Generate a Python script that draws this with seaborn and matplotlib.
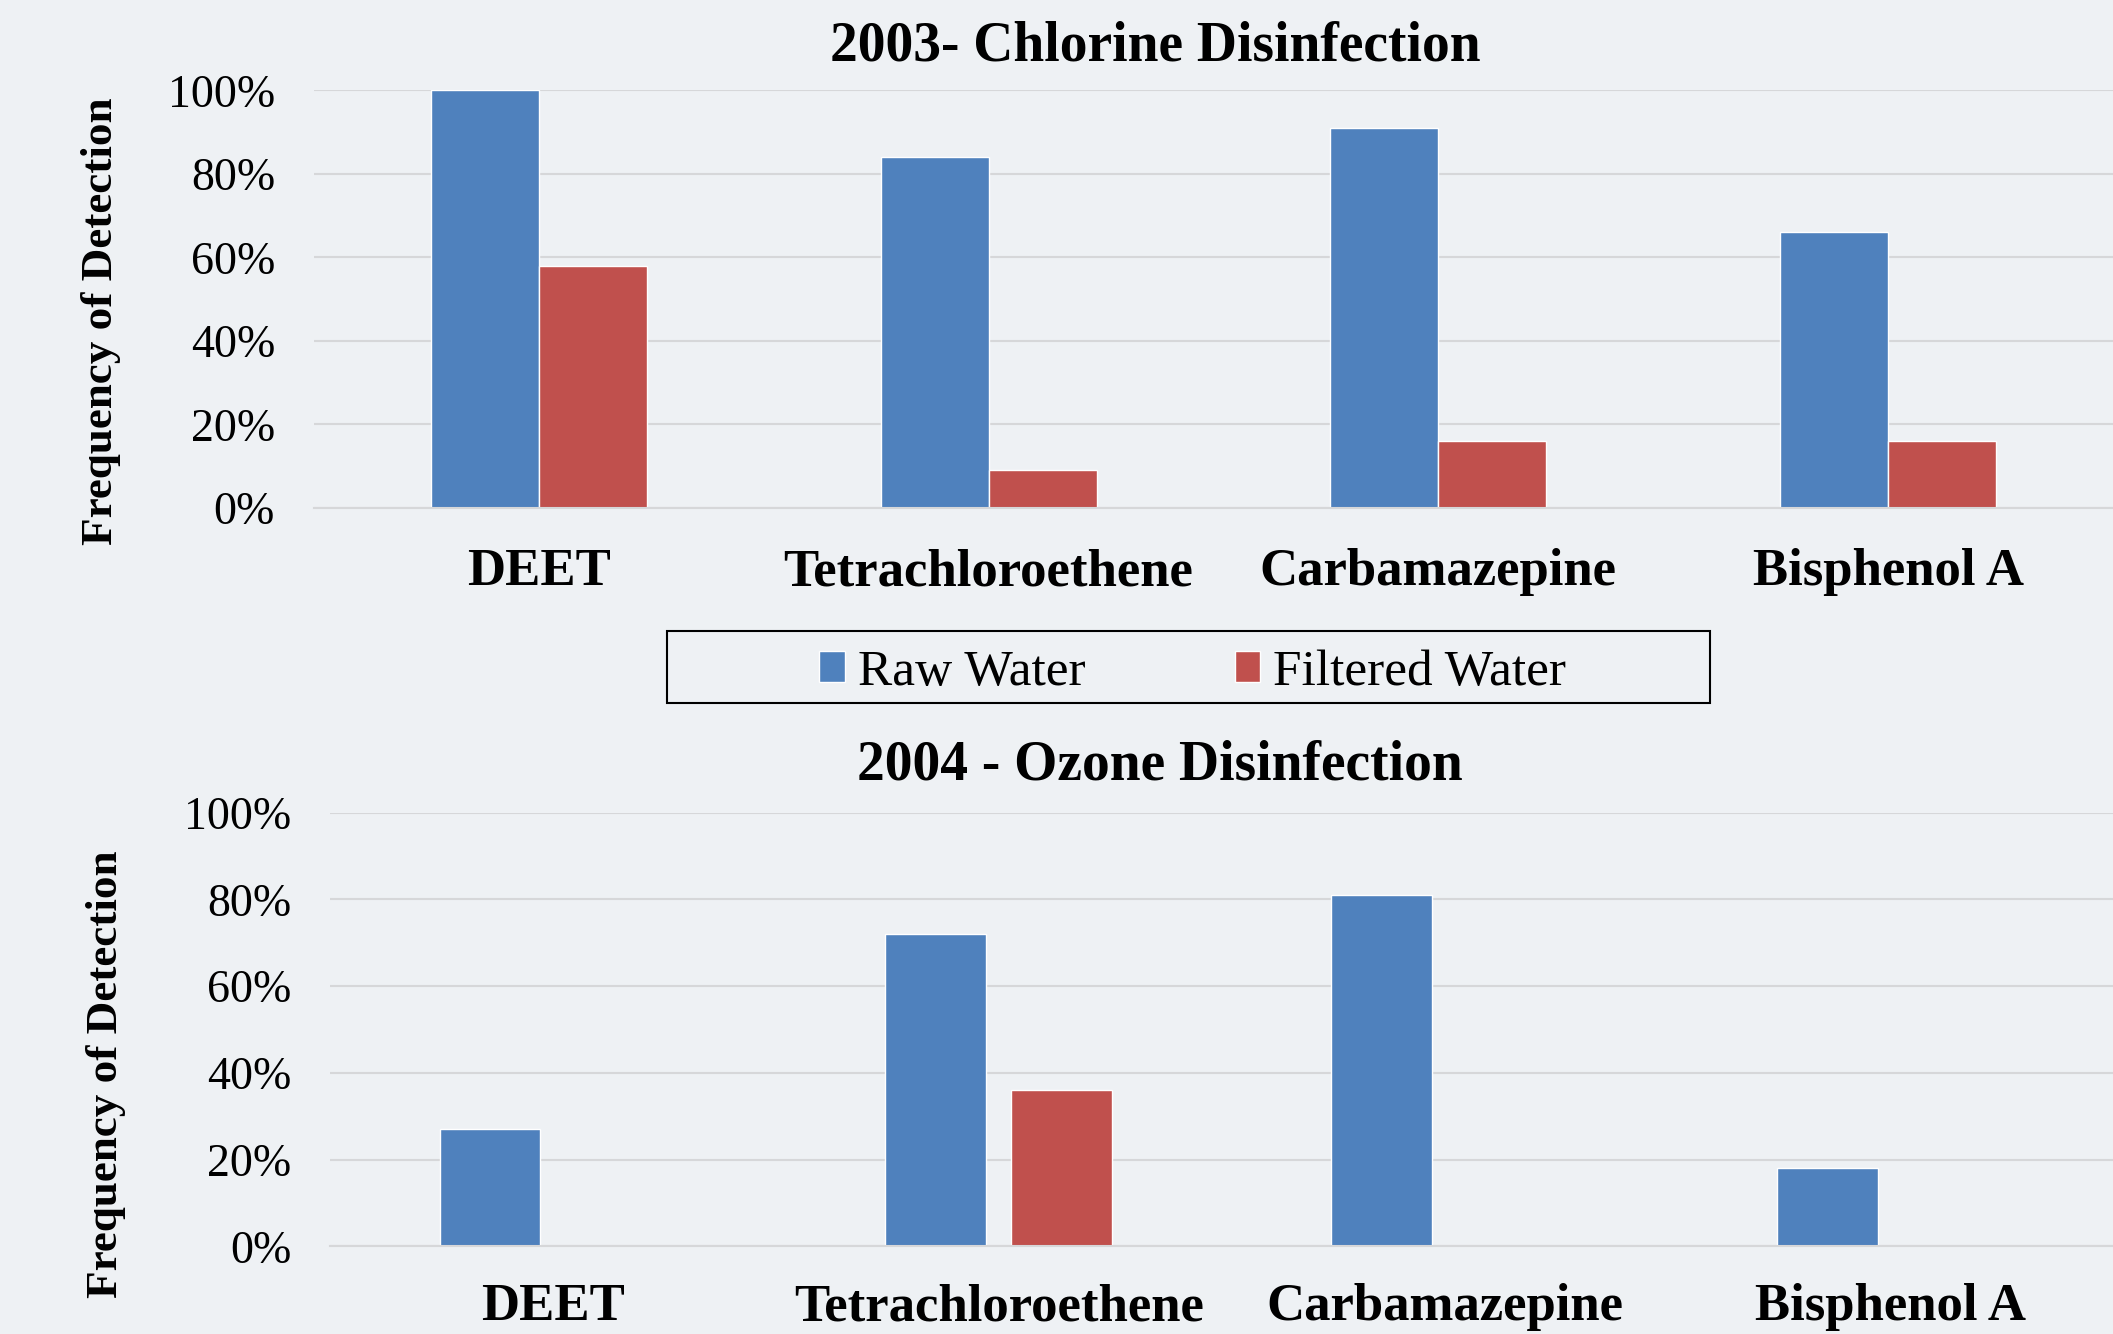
import pandas as pd
import seaborn as sns
import matplotlib.pyplot as plt
from matplotlib.patches import Rectangle
from matplotlib.ticker import PercentFormatter

compounds = ["DEET", "Tetrachloroethene", "Carbamazepine", "Bisphenol A"]
series = ["Raw Water", "Filtered Water"]
raw_2003 = [100, 84, 91, 66]
filtered_2003 = [58, 9, 16, 16]
raw_2004 = [27, 72, 81, 18]
filtered_2004 = [0, 36, 0, 0]
yticks = [0, 20, 40, 60, 80, 100]


def long_table(raw, filt):
    return pd.DataFrame({
        "compound": compounds * 2,
        "water": [series[0]] * len(raw) + [series[1]] * len(filt),
        "freq": raw + filt,
    })


bg = "#EEF1F4"
grid_c = "#D6D7D9"
colors = ["#4F81BD", "#C0504D"]

sns.set_theme(style="white")
plt.rcParams["font.family"] = ["Liberation Serif", "DejaVu Serif"]
plt.rcParams["text.color"] = "black"

fig = plt.figure(figsize=(21.13, 13.34), dpi=100, facecolor=bg)
ax1 = fig.add_axes([0.1486, 0.6192, 0.8514, 0.3131])
ax2 = fig.add_axes([0.1562, 0.0656, 0.8438, 0.3253])

sns.barplot(data=long_table(raw_2003, filtered_2003), x="compound", y="freq",
            hue="water", palette=colors, width=0.48, gap=0, ax=ax1,
            saturation=1, legend=True)
sns.barplot(data=long_table(raw_2004, filtered_2004), x="compound", y="freq",
            hue="water", palette=colors, width=0.565, gap=0.2, ax=ax2,
            saturation=1, legend=False)

handles, labels = ax1.get_legend_handles_labels()
ax1.get_legend().remove()

for ax, pad in [(ax1, 29), (ax2, 26.5)]:
    ax.set_facecolor("none")
    ax.set_ylim(0, 100)
    ax.set_yticks(yticks)
    ax.yaxis.set_major_formatter(PercentFormatter(100, decimals=0))
    ax.grid(axis="y", color=grid_c, linewidth=1.5)
    ax.set_axisbelow(True)
    for s in ["top", "right", "left"]:
        ax.spines[s].set_visible(False)
    ax.spines["bottom"].set_color(grid_c)
    ax.spines["bottom"].set_linewidth(1.5)
    ax.set_xlabel("")
    ax.set_ylabel("")
    ax.tick_params(axis="y", length=0, pad=28, labelsize=33, labelcolor="black")
    ax.tick_params(axis="x", which="major", length=0, pad=pad, labelsize=38,
                   labelcolor="black")
    for lab in ax.get_xticklabels():
        lab.set_fontweight("bold")

# small separators between categories on the upper chart
ax1.set_xticks([-0.5, 0.5, 1.5, 2.5, 3.5], minor=True)
ax1.tick_params(axis="x", which="minor", length=9.5, width=1.5, color=grid_c,
                direction="out")
ax1.set_xlim(-0.5, 3.5)
ax2.set_xlim(-0.5, 3.5)

fig.text(0.547, 0.965, "2003- Chlorine Disinfection", ha="center", va="center",
         fontsize=40, fontweight="bold")
fig.text(0.549, 0.4265, "2004 - Ozone Disinfection", ha="center", va="center",
         fontsize=40, fontweight="bold")
fig.text(0.048, 0.759, "Frequency of Detection", rotation=90, ha="center",
         va="center", fontsize=32.5, fontweight="bold")
fig.text(0.050, 0.195, "Frequency of Detection", rotation=90, ha="center",
         va="center", fontsize=32.5, fontweight="bold")

fig.patches.append(Rectangle((0.3157, 0.473), 0.4936, 0.054,
                             transform=fig.transFigure, facecolor="none",
                             edgecolor="black", linewidth=1.5))
fig.legend(handles, labels, loc="center", bbox_to_anchor=(0.5645, 0.496), ncol=2,
           frameon=False, fontsize=37, handlelength=0.5, handleheight=0.55,
           handletextpad=0.25, columnspacing=2.9)

fig.savefig("out.png", dpi=100, facecolor=bg)
